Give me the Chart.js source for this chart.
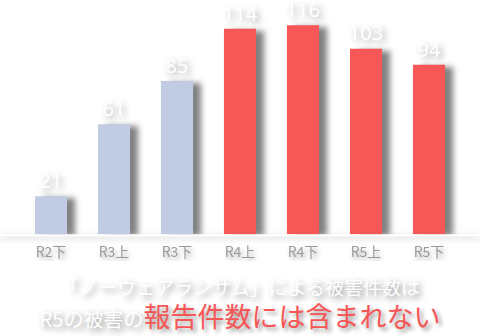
<!DOCTYPE html>
<html>
<head>
<meta charset="utf-8">
<script src="https://cdn.jsdelivr.net/npm/chart.js@4"></script>
<style>
  html, body { margin: 0; padding: 0; background: #fff; }
  #wrap { position: relative; width: 480px; height: 336px; overflow: hidden; }
  #chartBox { position: absolute; left: 0; top: 0; width: 480px; height: 261px; }
  .note { position: absolute; left: 0; width: 480px; text-align: center; white-space: nowrap;
          font-family: "Noto Sans CJK JP", sans-serif; color: #fff; }
  #line1 { top: 273px; font-size: 19px; text-shadow: 3px 3px 6px rgba(0,0,0,0.45); }
  #line2 { top: 296px; font-size: 20px; text-shadow: 3px 3px 6px rgba(0,0,0,0.45); }
  #line2 .red { color: #f55656; font-size: 27px; text-shadow: 3px 3px 4px rgba(0,0,0,0.4); }
</style>
</head>
<body>
<div id="wrap">
  <div id="chartBox"><canvas id="chart"></canvas></div>
  <div class="note" id="line1">「ノーウェアランサム」による被害件数は</div>
  <div class="note" id="line2">R5の被害の<span class="red">報告件数には含まれない</span></div>
</div>

<script>
/* ============================================================
   DATA
============================================================ */

const periods = ["R2下", "R3上", "R3下", "R4上", "R4下", "R5上", "R5下"];
const cases   = [21, 61, 85, 114, 116, 103, 94];
const colors  = ["#c1cce3", "#c1cce3", "#c1cce3", "#f75756", "#f75756", "#f75756", "#f75756"];


/* ============================================================
   PLUGINS (shadows + value labels)
============================================================ */

const shadowPlugin = {
    id: "shadows",
    beforeDraw(chart) {
        const ctx = chart.ctx;
        ctx.save();
        ctx.shadowColor = "rgba(0,0,0,0.35)";
        ctx.shadowBlur = 5;
        ctx.shadowOffsetX = 2;
        ctx.shadowOffsetY = 3;
    },
    beforeDatasetsDraw(chart) {
        const ctx = chart.ctx;
        ctx.restore();

        // faint base line under the bars
        const a = chart.chartArea;
        ctx.save();
        ctx.shadowColor = "rgba(0,0,0,0.25)";
        ctx.shadowBlur = 6;
        ctx.shadowOffsetY = 2;
        ctx.fillStyle = "#fff";
        ctx.fillRect(0, a.bottom, chart.width, 2);
        ctx.restore();
    },
    beforeDatasetDraw(chart) {
        const ctx = chart.ctx;
        ctx.save();
        ctx.shadowColor = "rgba(0,0,0,0.5)";
        ctx.shadowBlur = 6;
        ctx.shadowOffsetX = 8;
        ctx.shadowOffsetY = 2;
    },
    afterDatasetDraw(chart) {
        chart.ctx.restore();
    },
    afterDatasetsDraw(chart) {
        const ctx = chart.ctx;
        const meta = chart.getDatasetMeta(0);
        ctx.save();
        ctx.font = "20px 'Noto Sans', sans-serif";
        ctx.textAlign = "center";
        ctx.textBaseline = "bottom";
        ctx.fillStyle = "#fff";
        ctx.shadowColor = "rgba(0,0,0,0.4)";
        ctx.shadowBlur = 7;
        ctx.shadowOffsetX = 3;
        ctx.shadowOffsetY = 3;
        meta.data.forEach((bar, i) => {
            ctx.fillText(String(cases[i]), bar.x, bar.y - 4);
        });
        ctx.restore();
    }
};


/* ============================================================
   CHART
============================================================ */

new Chart(document.getElementById("chart"), {
    type: "bar",
    data: {
        labels: periods,
        datasets: [{
            data: cases,
            backgroundColor: colors,
            borderWidth: 0,
            barPercentage: 0.51,
            categoryPercentage: 1.0
        }]
    },
    options: {
        responsive: true,
        maintainAspectRatio: false,
        animation: false,
        layout: { padding: { left: 19.5, right: 19.5, top: 0, bottom: 0 } },
        plugins: {
            legend: { display: false },
            tooltip: { enabled: false }
        },
        scales: {
            x: {
                grid: { display: false },
                border: { display: false },
                ticks: {
                    color: "#9a9a9a",
                    padding: 1,
                    font: { size: 14, family: "'Noto Sans CJK JP', sans-serif" }
                }
            },
            y: {
                display: false,
                min: 0,
                max: 130
            }
        }
    },
    plugins: [shadowPlugin]
});
</script>
</body>
</html>
